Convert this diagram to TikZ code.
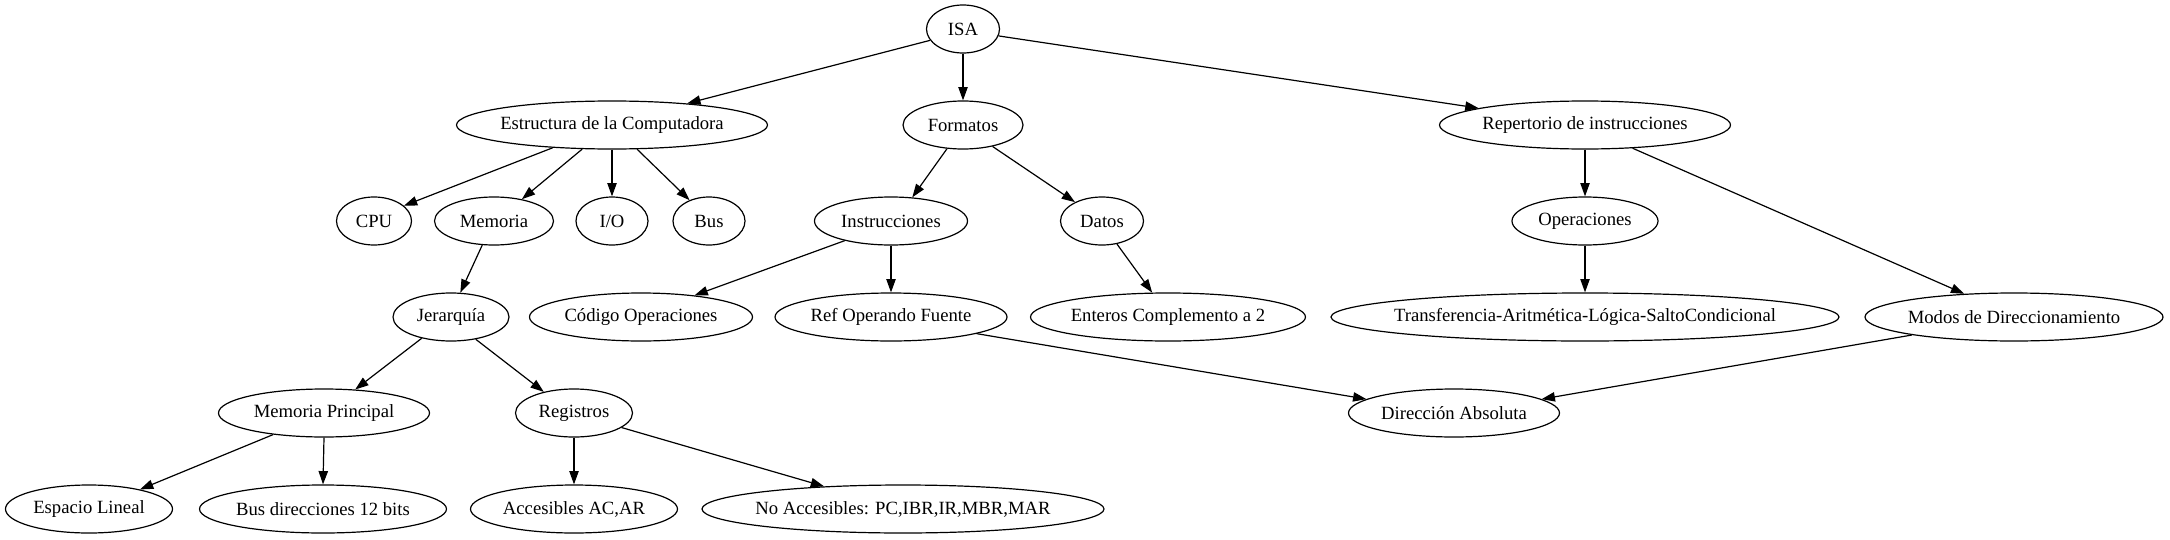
\documentclass[tikz,border=0pt]{standalone}
\usepackage{fontspec}
\setmainfont{Liberation Serif}
\usetikzlibrary{shapes.geometric,arrows.meta}
\begin{document}
\begin{tikzpicture}[x=0.75pt,y=-0.75pt,
  nd/.style={draw,ellipse,line width=0.9pt,inner ysep=0pt,inner xsep=-25pt,minimum height=36pt,font=\fontsize{14}{16}\selectfont},
  ar/.style={line width=0.9pt,-{Triangle[length=10pt,width=7pt]}}]
\useasboundingbox (0,0) rectangle (2170,539);
% row 1
\node[nd,minimum width=54.75pt] (isa) at (963,29) {ISA};
% row 2
\node[nd,minimum width=233.25pt] (est) at (612,125) {Estructura de la Computadora};
\node[nd,minimum width=90pt] (for) at (963,125) {Formatos};
\node[nd,minimum width=218.25pt] (rep) at (1585,125) {Repertorio de instrucciones};
% row 3
\node[nd,minimum width=56.25pt] (cpu) at (374,221) {CPU};
\node[nd,minimum width=89.25pt] (mem) at (494,221) {Memoria};
\node[nd,minimum width=54pt] (io) at (612,221) {I/O};
\node[nd,minimum width=54pt] (bus) at (709,221) {Bus};
\node[nd,minimum width=114.75pt] (ins) at (891,221) {Instrucciones};
\node[nd,minimum width=62.25pt] (dat) at (1102,221) {Datos};
\node[nd,minimum width=109.5pt] (ope) at (1585,221) {Operaciones};
% row 4
\node[nd,minimum width=87pt] (jer) at (451,317) {Jerarquía};
\node[nd,minimum width=167.25pt] (cod) at (641,317) {Código Operaciones};
\node[nd,minimum width=174pt] (ref) at (891,317) {Ref Operando Fuente};
\node[nd,minimum width=206.25pt] (ent) at (1168,317) {Enteros Complemento a 2};
\node[nd,minimum width=381pt] (tra) at (1585,317) {Transferencia-Aritmética-Lógica-SaltoCondicional};
\node[nd,minimum width=223.5pt] (mod) at (2014,317) {Modos de Direccionamiento};
% row 5
\node[nd,minimum width=158.25pt] (mp) at (324,413) {Memoria Principal};
\node[nd,minimum width=87.75pt] (reg) at (574,413) {Registros};
\node[nd,minimum width=158.25pt] (dir) at (1454,413) {Dirección Absoluta};
% row 6
\node[nd,minimum width=125.25pt] (esp) at (89,509) {Espacio Lineal};
\node[nd,minimum width=185.25pt] (bd) at (323,509) {Bus direcciones 12 bits};
\node[nd,minimum width=155.25pt] (acc) at (574,509) {Accesibles AC,AR};
\node[nd,minimum width=301.5pt] (nac) at (903,509) {No Accesibles: PC,IBR,IR,MBR,MAR};
% edges
\draw[ar] (isa.199) -- (est.16);
\draw[ar] (isa.south) -- (for.north);
\draw[ar] (isa.349) -- (rep.171);
\draw[ar] (est.201.6) -- (cpu.27);
\draw[ar] (est.219.6) -- (mem.38);
\draw[ar] (est.south) -- (io.north);
\draw[ar] (est.316) -- (bus.133.6);
\draw[ar] (for.236) -- (ins.48.8);
\draw[ar] (for.324.6) -- (dat.145);
\draw[ar] (rep.south) -- (ope.north);
\draw[ar] (rep.334.9) -- (mod.155.3);
\draw[ar] (mem.244) -- (jer.69);
\draw[ar] (ins.203.6) -- (cod.22);
\draw[ar] (ins.south) -- (ref.north);
\draw[ar] (dat.303.7) -- (ent.123.7);
\draw[ar] (ope.south) -- (tra.north);
\draw[ar] (jer.216.9) -- (mp.37.5);
\draw[ar] (jer.318.5) -- (reg.145.4);
\draw[ar] (ref.349.7) -- (dir.171.3);
\draw[ar] (mod.190) -- (dir.9.5);
\draw[ar] (mp.203.5) -- (esp.21.2);
\draw[ar] (mp.south) -- (bd.north);
\draw[ar] (reg.south) -- (acc.north);
\draw[ar] (reg.343.6) -- (nac.164.6);
\end{tikzpicture}
\end{document}
